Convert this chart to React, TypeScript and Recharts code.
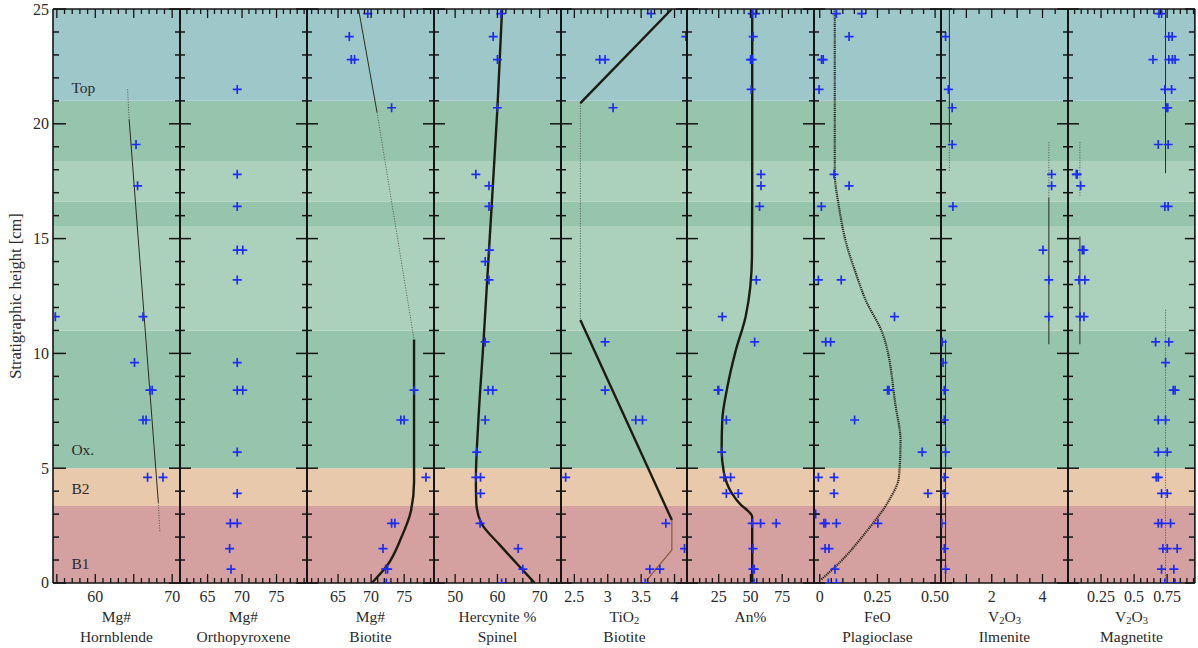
import React from 'react';
import { ScatterChart, Scatter, XAxis, YAxis, ReferenceArea } from 'recharts';

type P = { x: number; y: number };
const pts = (a: number[][]): P[] => a.map(([x, y]) => ({ x, y }));

// ---------- background layers (stratigraphic units) ----------
const bandEdges = [0, 3.35, 5, 11, 15.55, 16.6, 18.35, 21, 25];
const bandColors = ['#d4a0a0', '#e8c9ab', '#97c4ad', '#abd1bc', '#97c4ad', '#abd1bc', '#97c4ad', '#9ec7ca'];
const bandLabels = ['Top', 'Ox.', 'B2', 'B1'];
const bandLabelHeights = [21.6, 5.8, 4.1, 0.85];
const bandLabelX = 56.9;

// ---------- Hornblende Mg# ----------
const hornblendePts = pts([[65.3, 19.1], [65.5, 17.3], [54.8, 11.6], [66.2, 11.6], [65.1, 9.6], [67.1, 8.4], [67.4, 8.4], [66.2, 7.1], [66.6, 7.1], [66.8, 4.6], [68.8, 4.6]]);
const hornblendeTopDotted = pts([[64.2, 21.5], [64.4, 20.2]]);
const hornblendeTrend = pts([[64.4, 20.2], [68.2, 3.5]]);
const hornblendeBottomDotted = pts([[68.2, 3.5], [68.4, 2.2]]);
const hornblendeLabels = [60, 70];

// ---------- Orthopyroxene Mg# ----------
const orthoPts = pts([[69.3, 21.5], [69.3, 17.8], [69.3, 16.4], [69.3, 14.5], [70.1, 14.5], [69.3, 13.2], [69.3, 9.6], [69.3, 8.4], [70.1, 8.4], [69.3, 5.7], [69.3, 3.9], [68.3, 2.6], [69.3, 2.6], [68.2, 1.5], [68.4, 0.6]]);
const orthoLabels = [65, 70, 75];

// ---------- Biotite Mg# ----------
const biotitePts = pts([[69.5, 24.8], [66.7, 23.8], [67.0, 22.8], [67.5, 22.8], [73.1, 20.7], [76.5, 8.4], [74.5, 7.1], [75.0, 7.1], [78.3, 4.6], [73.1, 2.6], [73.6, 2.6], [71.8, 1.5], [72.2, 0.6], [72.5, 0.6], [72.3, 0]]);
const biotiteTopThin = pts([[68.1, 25], [70.9, 20.5]]);
const biotiteDotted = pts([[70.9, 20.5], [76.5, 10.6]]);
const biotiteThick = pts([[76.5, 10.6], [76.5, 4.9], [76.5, 4.4], [76.0, 3.1], [74.6, 2.0], [72.4, 0.75], [70.1, 0]]);
const biotiteLabels = [65, 70, 75];

// ---------- Spinel hercynite % ----------
const spinelPts = pts([[60.8, 24.8], [59.0, 23.8], [60.0, 22.8], [60.0, 20.7], [54.9, 17.8], [58.0, 17.3], [58.0, 16.4], [58.1, 14.5], [57.1, 14.0], [58.0, 13.2], [57.1, 10.5], [57.8, 8.4], [58.9, 8.4], [57.1, 7.1], [55.1, 5.7], [54.9, 4.6], [56.0, 4.6], [56.0, 3.9], [55.9, 2.6], [64.9, 1.5], [66.0, 0.6], [61.0, 0]]);
const spinelThick = pts([[61.1, 25], [60.0, 20.7], [58.0, 14.5], [56.7, 10.5], [55.5, 7.1], [54.9, 4.5], [55.0, 3.5], [56.2, 2.6], [60.6, 1.65], [64.5, 0.86], [68.8, 0]]);
const spinelLabels = [50, 60, 70];

// ---------- Biotite TiO2 ----------
const tio2Pts = pts([[3.65, 24.8], [4.17, 23.8], [2.88, 22.8], [2.96, 22.8], [3.08, 20.7], [2.96, 10.5], [2.96, 8.4], [3.42, 7.1], [3.52, 7.1], [2.37, 4.6], [3.87, 2.6], [4.15, 1.5], [3.63, 0.6], [3.78, 0.6], [3.56, 0]]);
const tio2Upper = pts([[3.96, 25], [2.59, 20.9]]);
const tio2Dotted = pts([[2.59, 20.9], [2.59, 11.45]]);
const tio2Lower = pts([[2.59, 11.45], [3.96, 2.74]]);
const tio2Base = pts([[3.96, 2.74], [3.96, 1.44], [3.58, 0.1]]);
const tio2Labels = [2.5, 3, 3.5, 4];

// ---------- Plagioclase An% ----------
const anPts = pts([[51.4, 24.8], [54.1, 24.8], [52.2, 23.8], [50.1, 22.8], [51.4, 22.8], [50.6, 21.5], [58.3, 17.8], [58.3, 17.3], [57.2, 16.4], [54.6, 13.2], [27.8, 11.6], [53.3, 10.5], [24.4, 8.4], [25.0, 8.4], [31.0, 7.1], [27.3, 5.7], [29.1, 4.6], [34.4, 4.6], [31.0, 3.9], [40.4, 3.9], [51.4, 2.6], [58.0, 2.6], [70.3, 2.6], [52.0, 1.5], [52.0, 0.6], [53.0, 0.6], [52.8, 0]]);
const anThick = pts([[51.4, 25], [51.4, 16.6], [51.2, 14.2], [46.2, 11.6], [38.3, 10.1], [31.7, 8.5], [27.8, 7.1], [27.3, 5.8], [29.1, 4.8], [35.4, 3.9], [42.5, 3.4], [48.8, 3.1], [51.4, 2.9], [51.4, 0]]);
const anLabels = [25, 50, 75];

// ---------- Plagioclase FeO ----------
const feoPts = pts([[0.072, 24.8], [0.182, 24.8], [0.127, 23.8], [0.008, 22.8], [0.015, 22.8], [-0.003, 21.5], [0.062, 17.8], [0.127, 17.3], [0.007, 16.4], [-0.006, 13.2], [0.093, 13.2], [0.324, 11.6], [0.026, 10.5], [0.047, 10.5], [0.294, 8.4], [0.3, 8.4], [0.151, 7.1], [0.444, 5.7], [-0.006, 4.6], [0.062, 4.6], [0.062, 3.9], [0.469, 3.9], [-0.018, 3.0], [0.018, 2.6], [0.025, 2.6], [0.072, 2.6], [0.252, 2.6], [0.023, 1.5], [0.04, 1.5], [0.066, 0.6], [0.037, 0], [0.072, 0]]);
const feoDotted = pts([[0.065, 25], [0.065, 17.85], [0.083, 16.4], [0.112, 14.9], [0.156, 13.5], [0.2, 12.3], [0.271, 10.9], [0.329, 7.7], [0.35, 6.2], [0.343, 4.6], [0.3, 3.6], [0.199, 2.2], [0.083, 0.86], [0.004, 0.13]]);
const feoLabels = [0, 0.25, 0.5];

// ---------- Ilmenite V2O3 ----------
const ilmPts = pts([[0.18, 23.8], [0.29, 21.5], [0.44, 20.7], [0.44, 19.1], [4.36, 17.8], [4.36, 17.3], [0.47, 16.4], [4.02, 14.5], [4.25, 13.2], [4.25, 11.6], [0.05, 10.5], [0.08, 9.6], [0.13, 8.4], [0.13, 7.1], [0.18, 5.7], [0.13, 4.6], [0.13, 3.9], [0.03, 2.6], [0.13, 1.5], [0.18, 0.6]]);
const ilmUpper = pts([[0.33, 25], [0.33, 19.2]]);
const ilmUpperDotted = pts([[0.33, 19.2], [0.33, 17.9]]);
const ilmLower = pts([[0.18, 10.6], [0.18, 0]]);
const ilmRightDotted = pts([[4.25, 19.2], [4.25, 16.8]]);
const ilmRight = pts([[4.25, 16.8], [4.25, 10.4]]);
const ilmLabels = [2, 4];

// ---------- Magnetite V2O3 ----------
const magPts = pts([[0.688, 24.8], [0.708, 24.8], [0.763, 23.8], [0.788, 23.8], [0.643, 22.8], [0.763, 22.8], [0.79, 22.8], [0.81, 22.8], [0.733, 21.5], [0.784, 21.5], [0.746, 20.7], [0.755, 20.7], [0.683, 19.1], [0.758, 19.1], [0.063, 17.8], [0.07, 17.8], [0.096, 17.3], [0.733, 16.4], [0.758, 16.4], [0.108, 14.5], [0.12, 14.5], [0.083, 13.2], [0.128, 13.2], [0.091, 11.6], [0.121, 11.6], [0.663, 10.5], [0.763, 10.5], [0.738, 9.6], [0.796, 8.4], [0.81, 8.4], [0.683, 7.1], [0.738, 7.1], [0.683, 5.7], [0.751, 5.7], [0.668, 4.6], [0.683, 4.6], [0.708, 3.9], [0.751, 3.9], [0.683, 2.6], [0.708, 2.6], [0.776, 2.6], [0.718, 1.5], [0.751, 1.5], [0.826, 1.5], [0.708, 0.6], [0.801, 0.6], [0.733, 0], [0.81, 0]]);
const magUpper = pts([[0.738, 25], [0.738, 17.85]]);
const magLower = pts([[0.738, 11.9], [0.738, 0]]);
const magLeftDotted = pts([[0.09, 19.2], [0.09, 16.8]]);
const magLeft = pts([[0.09, 15.1], [0.09, 10.4]]);
const magLabels = [0.25, 0.5, 0.75];

// ---------- layout / styles ----------
const PLOT_LEFT = 53;
const PLOT_RIGHT = 1195;
const TOP = 9;
const BOTTOM = 583;
const H = 648;
const W = (PLOT_RIGHT - PLOT_LEFT) / 9;
const PAD = 16;
const FONT = '"Liberation Serif", "Times New Roman", Times, serif';
const FS = 15.5;
const TICK_FS = 16;
const AX = '#141414';
const TXT = '#2a2a2a';

function rangeTicks(a: number, b: number, step: number): number[] {
  const out: number[] = [];
  const n = Math.round((b - a) / step);
  for (let i = 0; i <= n; i++) out.push(+(a + i * step).toFixed(5));
  return out;
}
const yTicks = rangeTicks(0, 25, 1);

type LineSpec = { data: P[]; stroke: string; width: number; dash?: string; curve?: string; opacity?: number };
const thick = (data: P[], curve = 'linear'): LineSpec => ({ data, stroke: '#1c1c10', width: 2.4, curve });
const thin = (data: P[]): LineSpec => ({ data, stroke: '#2b2b1c', width: 1 });
const dotted = (data: P[]): LineSpec => ({ data, stroke: '#3a3a2a', width: 1, dash: '1 1.5', opacity: 0.8 });
const brown = (data: P[]): LineSpec => ({ data, stroke: '#8a5a3c', width: 1.2 });

type Panel = {
  title: string[];
  domain: [number, number];
  ticks: number[];
  major: number;
  labels: number[];
  fmt: (v: number) => string;
  points: P[];
  lines: LineSpec[];
};

const panels: Panel[] = [
  { title: ['Mg#', 'Hornblende'], domain: [54.5, 71], ticks: rangeTicks(55, 71, 1), major: 5, labels: hornblendeLabels, fmt: String, points: hornblendePts,
    lines: [dotted(hornblendeTopDotted), thin(hornblendeTrend), dotted(hornblendeBottomDotted)] },
  { title: ['Mg#', 'Orthopyroxene'], domain: [61, 79.4], ticks: rangeTicks(61, 79, 1), major: 5, labels: orthoLabels, fmt: String, points: orthoPts, lines: [] },
  { title: ['Mg#', 'Biotite'], domain: [60.3, 79.5], ticks: rangeTicks(61, 79, 1), major: 5, labels: biotiteLabels, fmt: String, points: biotitePts,
    lines: [thin(biotiteTopThin), dotted(biotiteDotted), thick(biotiteThick, 'monotoneY')] },
  { title: ['Hercynite %', 'Spinel'], domain: [45, 75], ticks: rangeTicks(46, 74, 2), major: 10, labels: spinelLabels, fmt: String, points: spinelPts,
    lines: [thick(spinelThick, 'monotoneY')] },
  { title: ['TiO_2', 'Biotite'], domain: [2.3, 4.2], ticks: rangeTicks(2.3, 4.2, 0.1), major: 0.5, labels: tio2Labels, fmt: String, points: tio2Pts,
    lines: [thick(tio2Upper), dotted(tio2Dotted), thick(tio2Lower), brown(tio2Base)] },
  { title: ['An%'], domain: [0, 100], ticks: rangeTicks(5, 95, 5), major: 25, labels: anLabels, fmt: String, points: anPts,
    lines: [thick(anThick, 'monotoneY')] },
  { title: ['FeO', 'Plagioclase'], domain: [-0.025, 0.525], ticks: rangeTicks(0, 0.5, 0.05), major: 0.25, labels: feoLabels, fmt: (v) => (v === 0 ? '0' : v.toFixed(2)), points: feoPts,
    lines: [{ data: feoDotted, stroke: '#2a2418', width: 2.2, dash: '1.2 0.9', curve: 'monotoneY' }] },
  { title: ['V_2O_3', 'Ilmenite'], domain: [0, 5], ticks: rangeTicks(0.5, 4.5, 0.5), major: 1, labels: ilmLabels, fmt: String, points: ilmPts,
    lines: [thin(ilmUpper), dotted(ilmUpperDotted), thin(ilmLower), dotted(ilmRightDotted), thin(ilmRight)] },
  { title: ['V_2O_3', 'Magnetite'], domain: [0, 0.96], ticks: rangeTicks(0.05, 0.95, 0.05), major: 0.25, labels: magLabels, fmt: String, points: magPts,
    lines: [thin(magUpper), dotted(magLower), dotted(magLeftDotted), thin(magLeft)] },
];

const isMult = (v: number, m: number) => Math.abs(v / m - Math.round(v / m)) < 1e-6;
const hasLabel = (p: Panel, v: number) => p.labels.some((l) => Math.abs(l - v) < 1e-6);

function Rich({ s, x, y, size }: { s: string; x: number; y: number; size: number }) {
  const parts = s.split(/_(\d)/);
  const nodes: React.ReactNode[] = [];
  let shifted = false;
  parts.forEach((part, i) => {
    if (part === '') return;
    const sub = i % 2 === 1;
    let dy = 0;
    if (sub && !shifted) { dy = 4; shifted = true; }
    else if (!sub && shifted) { dy = -4; shifted = false; }
    nodes.push(
      <tspan key={i} dy={dy} fontSize={sub ? size * 0.68 : size}>{part}</tspan>
    );
  });
  return (
    <text x={x} y={y} textAnchor="middle" dominantBaseline="central" fontFamily={FONT} fontSize={size} fill={TXT}>
      {nodes}
    </text>
  );
}

function Plus(props: any) {
  const { cx, cy } = props;
  if (cx == null || cy == null) return <g />;
  return <path d={`M${cx - 4.5},${cy}H${cx + 4.5}M${cx},${cy - 4.5}V${cy + 4.5}`} stroke="#1f2df2" strokeWidth={1.7} fill="none" />;
}
const Empty = () => <g />;

function BandLabel(props: any) {
  const { cx, cy, payload } = props;
  if (cx == null || cy == null) return <g />;
  return (
    <text x={cx} y={cy} dominantBaseline="central" fontFamily={FONT} fontSize={FS} fill={TXT}>
      {payload.label}
    </text>
  );
}

function XTitle(props: any) {
  const vb = props.viewBox || props;
  const lines: string[] = props.lines;
  const cx = vb.x + vb.width / 2;
  return (
    <g>
      {lines.map((l, i) => (
        <Rich key={i} s={l} x={cx} y={vb.y + 33 + i * 20} size={FS} />
      ))}
    </g>
  );
}

function YTitle(props: any) {
  const vb = props.viewBox || props;
  const cy = vb.y + vb.height / 2;
  return (
    <text x={16} y={cy} transform={`rotate(-90 16 ${cy})`} textAnchor="middle" dominantBaseline="central" fontFamily={FONT} fontSize={16.5} fill={TXT}>
      Stratigraphic height [cm]
    </text>
  );
}

function PanelChart({ p, index }: { p: Panel; index: number }) {
  const first = index === 0;
  const last = index === panels.length - 1;
  const ml = first ? PLOT_LEFT : PAD;
  const left = first ? 0 : PLOT_LEFT + index * W - PAD;
  const width = ml + W + PAD;

  const bottomTick = (t: any) => {
    const v = t.payload.value;
    const major = isMult(v, p.major);
    return (
      <g>
        <line x1={t.x} x2={t.x} y1={t.y} y2={t.y - (major ? 9 : 5)} stroke={AX} strokeWidth={1.3} />
        {hasLabel(p, v) && (
          <text x={t.x} y={t.y + 14} textAnchor="middle" dominantBaseline="central" fontFamily={FONT} fontSize={TICK_FS} fill={TXT}>
            {p.fmt(v)}
          </text>
        )}
      </g>
    );
  };
  const topTick = (t: any) => {
    const major = isMult(t.payload.value, p.major);
    return <line x1={t.x} x2={t.x} y1={t.y} y2={t.y + (major ? 9 : 5)} stroke={AX} strokeWidth={1.3} />;
  };
  const leftTick = (t: any) => {
    const v = t.payload.value;
    const major = v % 5 === 0;
    if (first) {
      return (
        <g>
          <line x1={t.x} x2={t.x + (major ? 13 : 6)} y1={t.y} y2={t.y} stroke={AX} strokeWidth={1.5} />
          {major && (
            <text x={t.x - 4} y={t.y} textAnchor="end" dominantBaseline="central" fontFamily={FONT} fontSize={TICK_FS} fill={TXT}>
              {v}
            </text>
          )}
        </g>
      );
    }
    const h = major ? 11 : 5;
    return <line x1={t.x - h} x2={t.x + h} y1={t.y} y2={t.y} stroke={AX} strokeWidth={1.5} />;
  };
  const rightTick = (t: any) => {
    const major = t.payload.value % 5 === 0;
    return <line x1={t.x - (major ? 10 : 6)} x2={t.x} y1={t.y} y2={t.y} stroke={AX} strokeWidth={1.5} />;
  };

  const labelData = bandLabels.map((label, i) => ({ x: bandLabelX, y: bandLabelHeights[i], label }));

  // axes take 1px each, so margins are reduced by 1 to keep the plot box at its place
  return (
    <div style={{ position: 'absolute', left, top: 0 }}>
      <ScatterChart width={width} height={H}
        margin={{ top: TOP - 1, bottom: H - BOTTOM - 1, left: ml - 1, right: last ? PAD - 1 : PAD }}>
        <XAxis xAxisId="b" dataKey="x" type="number" domain={p.domain} allowDataOverflow ticks={p.ticks} interval={0}
          height={1} tickSize={0} tickMargin={0} tickLine={false} tick={bottomTick}
          axisLine={{ stroke: AX, strokeWidth: 1.6 }} label={<XTitle lines={p.title} />} />
        <XAxis xAxisId="t" orientation="top" dataKey="x" type="number" domain={p.domain} allowDataOverflow ticks={p.ticks} interval={0}
          height={1} tickSize={0} tickMargin={0} tickLine={false} tick={topTick} axisLine={{ stroke: AX, strokeWidth: 1.6 }} />
        <YAxis yAxisId="l" dataKey="y" type="number" domain={[0, 25]} allowDataOverflow ticks={yTicks} interval={0}
          width={1} tickSize={0} tickMargin={0} tickLine={false} tick={leftTick}
          axisLine={{ stroke: AX, strokeWidth: first ? 1.6 : 2 }} label={first ? <YTitle /> : undefined} />
        {last && (
          <YAxis yAxisId="r" orientation="right" dataKey="y" type="number" domain={[0, 25]} allowDataOverflow ticks={yTicks} interval={0}
            width={1} tickSize={0} tickMargin={0} tickLine={false} tick={rightTick} axisLine={{ stroke: AX, strokeWidth: 1.6 }} />
        )}
        {bandColors.map((c, i) => (
          <ReferenceArea key={i} xAxisId="b" yAxisId="l" y1={bandEdges[i]} y2={bandEdges[i + 1]} fill={c} fillOpacity={1} stroke="none" />
        ))}
        {p.lines.map((l, i) => (
          <Scatter key={'l' + i} xAxisId="b" yAxisId="l" data={l.data} shape={Empty} fill="none" isAnimationActive={false}
            lineJointType={(l.curve || 'linear') as any}
            line={{ stroke: l.stroke, strokeWidth: l.width, strokeDasharray: l.dash, strokeOpacity: l.opacity ?? 1, fill: 'none' } as any} />
        ))}
        <Scatter xAxisId="b" yAxisId="l" data={p.points} shape={Plus} isAnimationActive={false} />
        <Scatter xAxisId="t" yAxisId={last ? 'r' : 'l'} data={p.points} shape={Empty} isAnimationActive={false} />
        {first && <Scatter xAxisId="b" yAxisId="l" data={labelData} shape={BandLabel} isAnimationActive={false} />}
      </ScatterChart>
    </div>
  );
}

export default function App() {
  return (
    <div style={{ position: 'absolute', left: 0, top: 0, width: 1198, height: 648, background: '#ffffff', overflow: 'hidden' }}>
      {panels.map((p, i) => (
        <PanelChart key={i} p={p} index={i} />
      ))}
    </div>
  );
}
